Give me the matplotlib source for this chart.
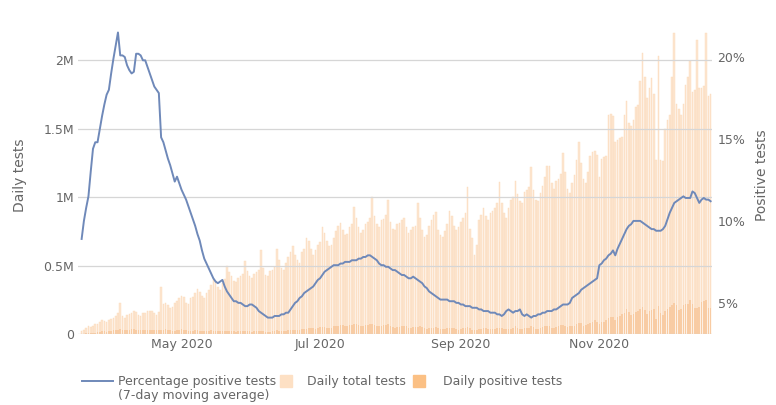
import matplotlib
matplotlib.use("Agg")
import matplotlib.pyplot as plt
from matplotlib.lines import Line2D
from matplotlib.patches import Rectangle
import pandas as pd

# one value per day, 18 Mar 2020 .. 20 Dec 2020 (rows = Wed..Tue weeks)
start_date = "2020-03-18"

# daily total tests, thousands
total_tests = [
    20, 30, 45, 55, 50, 60, 70,
    75, 90, 100, 95, 90, 105, 110,
    120, 135, 150, 225, 130, 120, 140,
    145, 150, 165, 160, 140, 130, 150,
    155, 165, 170, 165, 150, 140, 160,
    340, 220, 230, 210, 190, 200, 230,
    240, 260, 280, 270, 230, 220, 260,
    270, 300, 330, 310, 280, 260, 300,
    320, 360, 400, 380, 340, 320, 370,
    400, 500, 450, 420, 390, 380, 410,
    420, 440, 530, 460, 420, 410, 440,
    450, 470, 610, 480, 430, 420, 460,
    470, 490, 620, 540, 480, 470, 520,
    560, 600, 640, 580, 540, 520, 600,
    620, 700, 680, 620, 580, 610, 650,
    670, 780, 740, 680, 640, 650, 700,
    750, 790, 810, 760, 720, 730, 780,
    800, 930, 850, 780, 740, 760, 800,
    820, 850, 1000, 860, 800, 780, 830,
    840, 870, 980, 820, 770, 760, 800,
    810, 830, 850, 780, 740, 760, 780,
    790, 960, 850, 760, 710, 720, 790,
    830, 870, 890, 760, 720, 710, 750,
    800, 900, 860, 790, 760, 780, 820,
    850, 880, 1070, 770, 700, 580, 650,
    830, 870, 920, 860, 830, 880, 900,
    920, 960, 1110, 960, 880, 850, 920,
    980, 1000, 1120, 1020, 970, 960, 1040,
    1050, 1070, 1220, 1050, 980, 970, 1030,
    1080, 1150, 1230, 1230, 1100, 1060, 1120,
    1130, 1170, 1320, 1180, 1060, 1030, 1100,
    1160, 1270, 1400, 1250, 1130, 1100, 1180,
    1300, 1330, 1340, 1310, 1150, 1280, 1290,
    1300, 1600, 1610, 1590, 1400, 1420, 1430,
    1440, 1600, 1700, 1540, 1520, 1560, 1660,
    1670, 1850, 2050, 1880, 1720, 1800, 1870,
    1750, 1270, 2030, 1270, 1260, 1500, 1560,
    1600, 1880, 2200, 1680, 1640, 1600, 1680,
    1820, 1880, 1990, 1770, 1780, 2150, 1800,
    1800, 1810, 2200, 1740, 1750,
]

# daily positive tests, thousands
positive_tests = [
    1.5, 2.5, 4, 5.5, 7, 8, 10,
    12, 17, 19, 19, 18, 21, 25,
    26, 29, 32, 34, 27, 29, 30,
    31, 33, 34, 32, 27, 26, 27,
    29, 30, 32, 30, 26, 26, 26,
    29, 29, 34, 32, 27, 24, 25,
    27, 29, 34, 29, 27, 23, 24,
    25, 27, 27, 25, 21, 19, 22,
    21, 27, 25, 24, 19, 22, 21,
    22, 24, 23, 21, 19, 18, 19,
    19, 22, 24, 24, 20, 17, 21,
    20, 21, 24, 22, 18, 17, 18,
    21, 23, 26, 25, 19, 19, 23,
    26, 28, 32, 32, 28, 27, 33,
    37, 40, 45, 43, 42, 40, 45,
    51, 54, 54, 44, 44, 42, 55,
    60, 62, 67, 63, 60, 57, 63,
    65, 71, 74, 66, 61, 57, 63,
    69, 71, 75, 68, 58, 55, 60,
    66, 68, 70, 61, 50, 47, 50,
    52, 56, 61, 56, 47, 43, 50,
    52, 54, 56, 52, 42, 38, 44,
    45, 47, 48, 47, 37, 33, 36,
    41, 44, 47, 44, 36, 32, 40,
    41, 44, 50, 41, 32, 27, 27,
    35, 37, 47, 42, 34, 34, 38,
    39, 44, 47, 41, 35, 35, 40,
    38, 44, 55, 46, 36, 39, 41,
    44, 46, 55, 49, 35, 38, 42,
    50, 56, 57, 55, 45, 42, 51,
    56, 64, 69, 57, 48, 56, 59,
    62, 74, 83, 79, 60, 67, 72,
    78, 90, 99, 85, 76, 85, 91,
    104, 116, 127, 126, 105, 121, 134,
    143, 153, 180, 160, 138, 148, 159,
    169, 185, 196, 177, 144, 165, 173,
    182, 110, 205, 154, 139, 165, 180,
    196, 213, 227, 212, 178, 179, 214,
    219, 221, 245, 218, 188, 192, 197,
    232, 240, 248, 192, 188,
]

# percentage positive tests, 7-day moving average
pct_positive = [
    8.9, 10.0, 10.8, 11.5, 13.0, 14.4, 14.8,
    14.8, 15.6, 16.4, 17.1, 17.7, 18.0, 19.0,
    19.9, 20.7, 21.5, 20.1, 20.1, 20.0, 19.5,
    19.2, 19.0, 19.1, 20.2, 20.2, 20.1, 19.8,
    19.8, 19.4, 19.0, 18.6, 18.2, 18.0, 17.8,
    15.1, 14.8, 14.3, 13.8, 13.4, 12.9, 12.4,
    12.7, 12.3, 11.9, 11.6, 11.3, 10.9, 10.5,
    10.1, 9.7, 9.2, 8.8, 8.2, 7.7, 7.4,
    7.1, 6.8, 6.5, 6.3, 6.2, 6.3, 6.4,
    6.0, 5.7, 5.5, 5.3, 5.1, 5.1, 5.0,
    5.0, 4.9, 4.8, 4.8, 4.9, 4.9, 4.8,
    4.7, 4.5, 4.4, 4.3, 4.2, 4.1, 4.1,
    4.1, 4.2, 4.2, 4.2, 4.3, 4.3, 4.4,
    4.4, 4.6, 4.8, 5.0, 5.1, 5.3, 5.4,
    5.6, 5.7, 5.8, 5.9, 6.0, 6.2, 6.4,
    6.5, 6.7, 6.9, 7.0, 7.1, 7.2, 7.3,
    7.3, 7.3, 7.4, 7.4, 7.5, 7.5, 7.5,
    7.6, 7.6, 7.6, 7.7, 7.7, 7.8, 7.8,
    7.9, 7.9, 7.8, 7.7, 7.6, 7.4, 7.3,
    7.3, 7.2, 7.2, 7.1, 7.0, 7.0, 6.9,
    6.8, 6.7, 6.7, 6.6, 6.5, 6.5, 6.6,
    6.5, 6.4, 6.3, 6.2, 6.0, 5.9, 5.7,
    5.6, 5.5, 5.4, 5.3, 5.2, 5.2, 5.2,
    5.2, 5.1, 5.1, 5.1, 5.0, 5.0, 4.9,
    4.9, 4.8, 4.8, 4.8, 4.7, 4.7, 4.7,
    4.6, 4.6, 4.5, 4.5, 4.5, 4.4, 4.4,
    4.4, 4.3, 4.3, 4.2, 4.3, 4.5, 4.6,
    4.5, 4.4, 4.5, 4.5, 4.6, 4.3, 4.2,
    4.3, 4.2, 4.1, 4.2, 4.2, 4.3, 4.3,
    4.4, 4.4, 4.5, 4.5, 4.5, 4.6, 4.6,
    4.7, 4.8, 4.9, 4.9, 4.9, 5.0, 5.3,
    5.4, 5.5, 5.6, 5.8, 5.9, 6.0, 6.1,
    6.2, 6.3, 6.4, 6.5, 7.3, 7.4, 7.6,
    7.7, 7.9, 8.0, 8.2, 7.9, 8.3, 8.6,
    8.9, 9.2, 9.5, 9.7, 9.8, 10.0, 10.0,
    10.0, 10.0, 9.9, 9.8, 9.7, 9.6, 9.5,
    9.5, 9.4, 9.4, 9.4, 9.5, 9.7, 10.1,
    10.5, 10.8, 11.1, 11.2, 11.3, 11.4, 11.5,
    11.4, 11.4, 11.4, 11.8, 11.7, 11.4, 11.1,
    11.3, 11.4, 11.3, 11.3, 11.2,
]

dates = pd.date_range(start_date, periods=len(total_tests), freq="D")

left_ticks = [0, 0.5e6, 1e6, 1.5e6, 2e6]
left_labels = ["0", "0.5M", "1M", "1.5M", "2M"]
right_ticks = [5, 10, 15, 20]
right_labels = ["5%", "10%", "15%", "20%"]
month_ticks = ["2020-05-01", "2020-07-01", "2020-09-01", "2020-11-01"]
month_labels = ["May 2020", "Jul 2020", "Sep 2020", "Nov 2020"]

line_color = "#6f89b9"
total_color = "#fde6d1"
total_edge = "#fbd9b8"
positive_color = "#f7c394"
text_color = "#666666"

fig = plt.figure(figsize=(7.76, 4.05), dpi=100)
ax = fig.add_axes([78 / 776, 1 - 334 / 405, (712 - 78) / 776, (334 - 30) / 405])

ax.bar(dates, [v * 1000 for v in total_tests], width=0.72, color=total_color,
       edgecolor=total_edge, linewidth=0.3, zorder=1)
ax.bar(dates, [v * 1000 for v in positive_tests], width=0.72, color=positive_color,
       alpha=0.7, linewidth=0, zorder=2)

ax.set_ylim(0, 2.22e6)
ax.set_xlim(dates[0] - pd.Timedelta(days=1.6), dates[-1] + pd.Timedelta(days=0.6))
ax.set_yticks(left_ticks)
ax.set_yticklabels(left_labels)
ax.set_xticks(pd.to_datetime(month_ticks))
ax.set_xticklabels(month_labels)
ax.grid(axis="y", color="#d6d6d6", linewidth=0.9, zorder=3)
ax.set_axisbelow(False)
ax.tick_params(axis="both", length=0, labelsize=9, colors=text_color)
ax.tick_params(axis="x", pad=3)
ax.tick_params(axis="y", pad=3)
for s in ax.spines.values():
    s.set_visible(False)

ax2 = ax.twinx()
ax2.plot(dates, pct_positive, color=line_color, linewidth=1.4, zorder=4)
ax2.set_ylim(3.1, 21.65)
ax2.set_yticks(right_ticks)
ax2.set_yticklabels(right_labels)
ax2.tick_params(axis="y", length=0, labelsize=9, colors=text_color, pad=4)
for s in ax2.spines.values():
    s.set_visible(False)

fig.text(20 / 776, 1 - 175 / 405, "Daily tests", rotation=90, ha="center", va="center",
         fontsize=10, color=text_color)
fig.text(762 / 776, 1 - 175 / 405, "Positive tests", rotation=90, ha="center", va="center",
         fontsize=10, color=text_color)

# legend along the bottom
ly = 1 - 381 / 405
fig.add_artist(Line2D([82 / 776, 113 / 776], [ly, ly], color=line_color, linewidth=1.4))
fig.text(118 / 776, ly, "Percentage positive tests", ha="left", va="center", fontsize=9, color=text_color)
fig.text(118 / 776, 1 - 396 / 405, "(7-day moving average)", ha="left", va="center", fontsize=9, color=text_color)
fig.add_artist(Rectangle((280 / 776, 1 - 387 / 405), 12 / 776, 12 / 405, color="#fde0c4",
                         transform=fig.transFigure))
fig.text(307 / 776, ly, "Daily total tests", ha="left", va="center", fontsize=9, color=text_color)
fig.add_artist(Rectangle((413 / 776, 1 - 387 / 405), 12 / 776, 12 / 405, color="#fbc084",
                         transform=fig.transFigure))
fig.text(443 / 776, ly, "Daily positive tests", ha="left", va="center", fontsize=9, color=text_color)

fig.savefig("out.png", dpi=100)
